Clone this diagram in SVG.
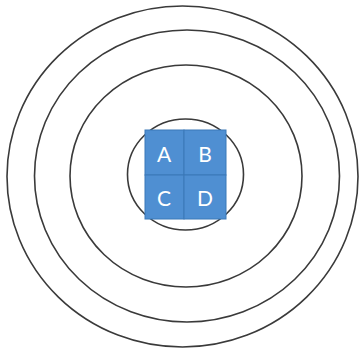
<svg xmlns="http://www.w3.org/2000/svg" width="360" height="349" viewBox="0 0 360 349">
<style>
.ring{fill:none;stroke:#3a3a3a;stroke-width:1.6}
.cell{fill:#4f8fd2;stroke:#3b78b8;stroke-width:1}
.lbl{font-family:Lato,"Open Sans","Liberation Sans",sans-serif;font-size:21px;fill:#ffffff;text-anchor:middle;dominant-baseline:central}
</style>
<rect width="360" height="349" fill="#ffffff"/>
<g id="rings">
<ellipse class="ring" cx="182.5" cy="176.5" rx="175.5" ry="170.5"/>
<ellipse class="ring" cx="187" cy="176" rx="152.5" ry="146"/>
<ellipse class="ring" cx="186" cy="176" rx="116" ry="111"/>
<ellipse class="ring" cx="185.5" cy="174.5" rx="58" ry="55.5"/>
</g>
<g id="A"><rect class="cell" x="145" y="130" width="39" height="45"/><text class="lbl" x="164" y="153">A</text></g>
<g id="B"><rect class="cell" x="184" y="130" width="42" height="45"/><text class="lbl" x="205" y="153">B</text></g>
<g id="C"><rect class="cell" x="145" y="175" width="39" height="44"/><text class="lbl" x="164" y="197">C</text></g>
<g id="D"><rect class="cell" x="184" y="175" width="42" height="44"/><text class="lbl" x="205" y="197">D</text></g>
</svg>
